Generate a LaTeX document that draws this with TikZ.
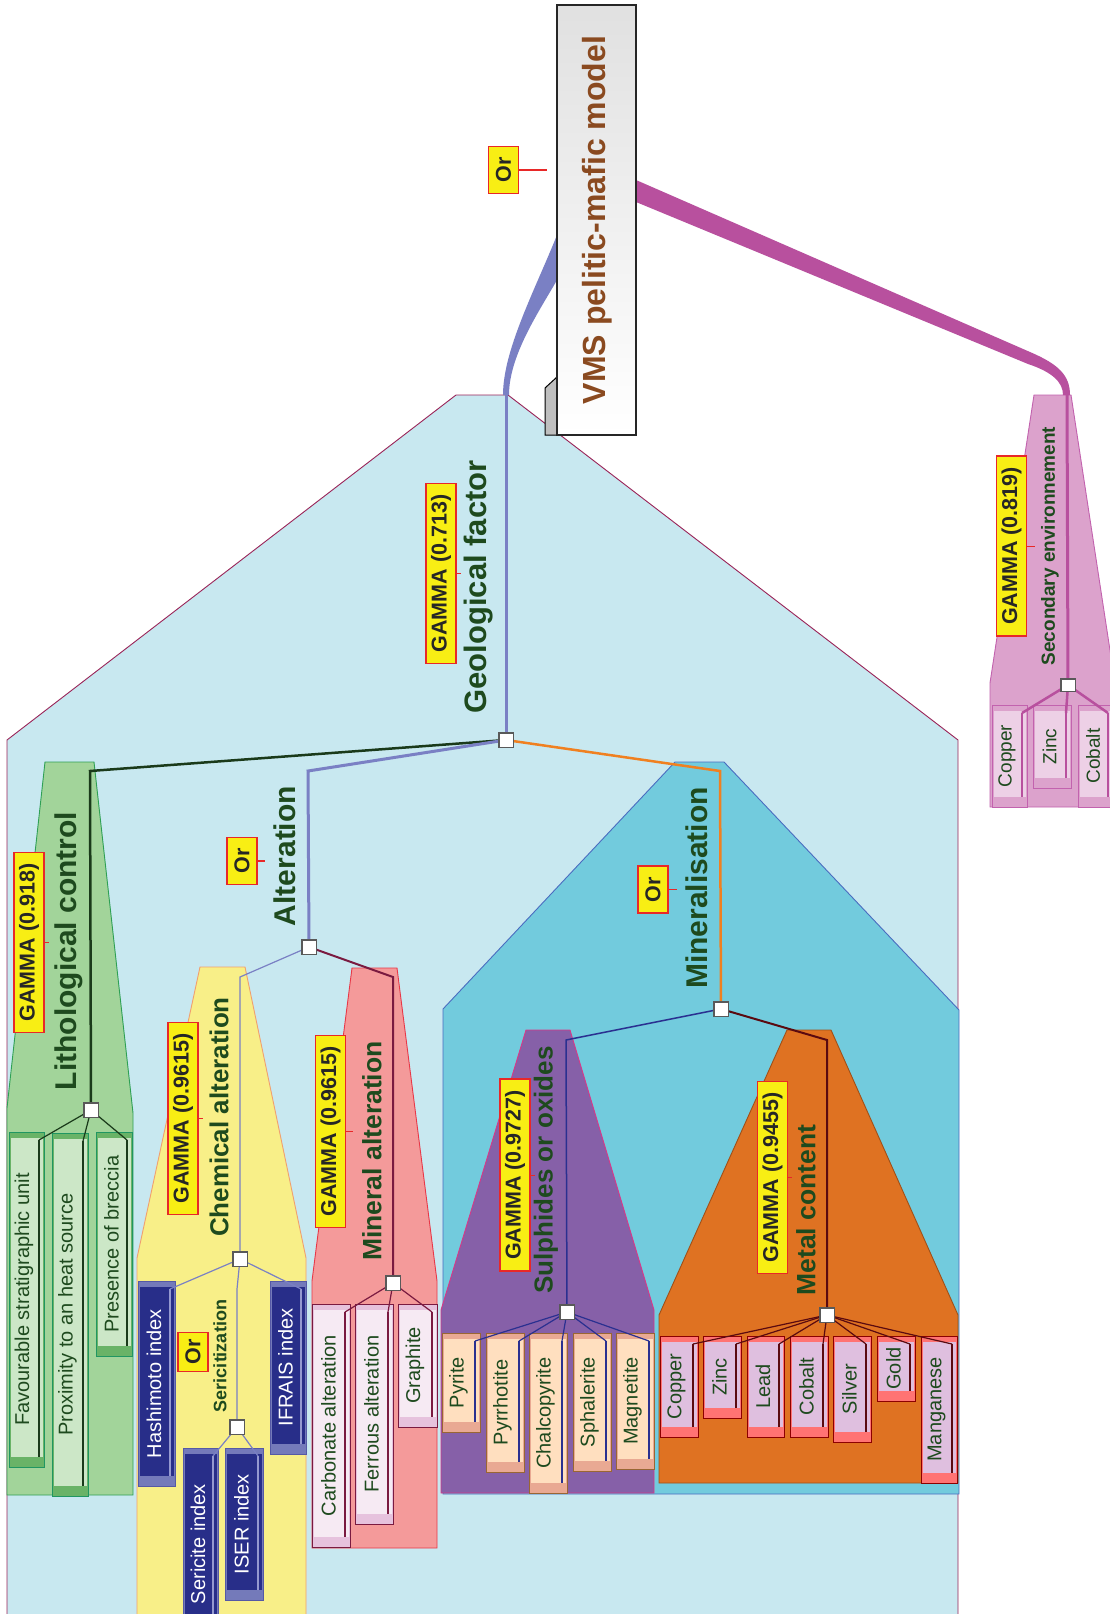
\documentclass[tikz,border=0pt]{standalone}
\usepackage{fontspec}
\setmainfont{Liberation Sans}
\definecolor{bgblue}{HTML}{C8E8F0}
\definecolor{bgborder}{HTML}{9A2458}
\definecolor{litfill}{HTML}{A2D49A}
\definecolor{litborder}{HTML}{2EA055}
\definecolor{chemfill}{HTML}{F8EF88}
\definecolor{chemborder}{HTML}{F0A070}
\definecolor{maltfill}{HTML}{F49A9A}
\definecolor{maltborder}{HTML}{E83848}
\definecolor{minfill}{HTML}{72CBDD}
\definecolor{minborder}{HTML}{4A6CC0}
\definecolor{sulfill}{HTML}{8660A8}
\definecolor{sulborder}{HTML}{D83888}
\definecolor{metfill}{HTML}{DF7222}
\definecolor{metborder}{HTML}{A05018}
\definecolor{secfill}{HTML}{DCA2CC}
\definecolor{secborder}{HTML}{C262AE}
\definecolor{hgreen}{HTML}{1E4A1E}
\definecolor{vmsbrown}{HTML}{8A4A20}
\definecolor{gyel}{HTML}{F8EE14}
\definecolor{gred}{HTML}{E82828}
\definecolor{lavline}{HTML}{7A80C4}
\definecolor{litline}{HTML}{1A3A1A}
\definecolor{orline}{HTML}{F08020}
\definecolor{maroonline}{HTML}{7A1A40}
\definecolor{navyline}{HTML}{2A3090}
\definecolor{dkmaroon}{HTML}{5A0A10}
\definecolor{magline}{HTML}{B8509E}
\tikzset{
  head/.style={rotate=90, text=hgreen, inner sep=0pt},
  gam/.style={draw=gred, line width=1.6pt, fill=gyel, rotate=90, text=black!85,
    font=\fontsize{21.5}{24}\selectfont\bfseries, inner xsep=11pt, inner ysep=2pt, minimum height=30pt},
  tick/.style={draw=gred, line width=1.5pt},
  junc/.style={draw=black!65, fill=white, line width=1.2pt, minimum size=13pt, inner sep=0pt},
  lit box/.style={fill=litfill!60!green!70!black!80, draw=litborder!70!teal, line width=1pt},
  lit inner/.style={fill=litfill!55!white},
  lit line/.style={draw=litline, line width=2pt},
  lit text/.style={text=hgreen, font=\fontsize{20}{22}\selectfont},
  nav box/.style={fill=lavline!95!black, draw=navyline!80, line width=1pt},
  nav inner/.style={fill=navyline!95!black},
  nav line/.style={draw=lavline!80!white, line width=1.5pt},
  nav text/.style={text=white, font=\fontsize{20}{22}\selectfont},
  mal box/.style={fill=magline!35!white, draw=maroonline, line width=1pt},
  mal inner/.style={fill=magline!12!white},
  mal line/.style={draw=maroonline, line width=2pt},
  mal text/.style={text=hgreen, font=\fontsize{20}{22}\selectfont},
  sul box/.style={fill=brown!35!pink, draw=brown!80!black, line width=1pt},
  sul inner/.style={fill=orange!25!white},
  sul line/.style={draw=navyline, line width=2pt},
  sul text/.style={text=hgreen, font=\fontsize{20}{22}\selectfont},
  met box/.style={fill=red!55!white, draw=red!55!black, line width=1pt},
  met inner/.style={fill=violet!25!white},
  met line/.style={draw=dkmaroon, line width=2pt},
  met text/.style={text=hgreen, font=\fontsize{20}{22}\selectfont},
  sec box/.style={fill=secfill, draw=secborder, line width=1pt},
  sec inner/.style={fill=secfill!50!white},
  sec line/.style={draw=magline, line width=2.5pt},
  sec text/.style={text=hgreen, font=\fontsize{19}{22}\selectfont},
}
% name, x1, y1, x2, y2, text, family
\newcommand\leaf[7]{%
  \filldraw[#7 box] (#2,#3) rectangle (#4,#5);
  \fill[#7 inner] (#2+1.5,#3+6) rectangle (#4-1.5,#5-10);
  \draw[#7 line] (#4-5,#3+8) -- (#4-5,#5-10);
  \coordinate (#1-top) at (#4-5,#3+8);
  \node[#7 text, rotate=90, inner sep=0pt] (#1) at ({(#2+#4-5)/2},{(#3+#5)/2}) {#6};
}
\begin{document}
\begin{tikzpicture}[x=1pt,y=-1pt]
\path[use as bounding box] (0,0) rectangle (1110,1614);
\clip (0,0) rectangle (1110,1614);
\fill[white] (0,0) rectangle (1110,1614);

% ---------- regions ----------
\filldraw[fill=bgblue, draw=bgborder, line width=0.9pt]
  (7,1640) -- (7,740) -- (456,395) -- (508,395) -- (958,740) -- (958,1640);
\filldraw[fill=litfill, draw=litborder, line width=0.9pt]
  (7,1495) -- (7,1108) -- (45,762) -- (94,762) -- (133,1113) -- (133,1495) -- cycle;
\filldraw[fill=chemfill, draw=chemborder, line width=0.9pt]
  (137,1640) -- (137,1258) -- (200,967) -- (245,967) -- (306,1258) -- (306,1640);
\filldraw[fill=maltfill, draw=maltborder, line width=0.9pt]
  (312,1548) -- (312,1281) -- (352,968) -- (397,968) -- (437,1281) -- (437,1548) -- cycle;
\filldraw[fill=minfill, draw=minborder, line width=0.9pt]
  (443,1494) -- (443,1009) -- (675,762) -- (724,762) -- (959,1010) -- (959,1494) -- cycle;
\filldraw[fill=sulfill, draw=sulborder, line width=0.9pt]
  (441,1493) -- (441,1310) -- (526,1030) -- (570,1030) -- (654,1310) -- (654,1493) -- cycle;
\filldraw[fill=metfill, draw=metborder, line width=0.9pt]
  (659,1483) -- (659,1315) -- (787,1030) -- (831,1030) -- (958,1315) -- (958,1483) -- cycle;
\filldraw[fill=secfill, draw=secborder, line width=0.9pt]
  (990,807) -- (990,683) -- (1034,395) -- (1071,395) -- (1115,683) -- (1115,807) -- cycle;

% ---------- bands ----------
\fill[lavline] (557,235) .. controls (535,290) and (503,350) .. (503,395)
  -- (509,395) .. controls (509,355) and (540,310) .. (557,280) -- cycle;
\fill[magline] (636,180) -- (1030,352) .. controls (1058,364) and (1070,375) .. (1070,395)
  -- (1063,395) .. controls (1063,382) and (1052,372) .. (1028,364) -- (636,202) -- cycle;

% ---------- main box ----------
\filldraw[fill=black!25, draw=black, line width=1pt] (545,435) -- (545,388) -- (557,377) -- (557,435) -- cycle;
\shade[top color=black!12, bottom color=white, draw=black!85, line width=1.2pt] (557,5) rectangle (636,435);
\node[rotate=90, text=vmsbrown, font=\fontsize{32}{36}\selectfont\bfseries, inner sep=0pt] (vms) at (597,220) {VMS pelitic-mafic model};
\node[gam] (orTop) at (503.5,170) {Or};
\draw[tick] (orTop.south) -- (547,170);

% ---------- junctions ----------
\node[junc] (jgeo) at (506,740) {};
\node[junc] (jlit) at (91,1110) {};
\node[junc] (jalt) at (309,947) {};
\node[junc] (jmin) at (721,1009) {};
\node[junc] (jchem) at (240,1259) {};
\node[junc] (jser) at (237,1427) {};
\node[junc] (jmal) at (393,1283) {};
\node[junc] (jsul) at (567,1312) {};
\node[junc] (jmet) at (827,1315) {};
\node[junc, minimum height=11pt] (jsec) at (1068,685) {};

\coordinate (geotop) at (506,395);
\coordinate (sectop) at (1067,395);
\coordinate (bLit) at (90,771);
\coordinate (bAlt) at (308,771);
\coordinate (bMin) at (720,771);
\coordinate (bChem) at (240,977);
\coordinate (bMal) at (393,977);
\coordinate (bSul) at (566,1040);
\coordinate (bMet) at (827,1040);
\coordinate (bSer) at (237,1289);

\draw[lavline, line width=3pt] (geotop) -- (jgeo);
\draw[magline, line width=3pt] (sectop) -- (jsec);
\draw[litline, line width=2.5pt] (jgeo) -- (bLit) -- (jlit);
\draw[lavline, line width=3pt] (jgeo) -- (bAlt) -- (jalt);
\draw[orline, line width=2.5pt] (jgeo) -- (bMin) -- (jmin);
\draw[lavline, line width=1.2pt] (jalt) -- (bChem) -- (jchem);
\draw[maroonline, line width=2pt] (jalt) -- (bMal) -- (jmal);
\draw[navyline, line width=1.5pt] (jmin) -- (bSul) -- (jsul);
\draw[dkmaroon, line width=2pt] (jmin) -- (bMet) -- (jmet);
\draw[lavline, line width=1.2pt] (jchem) -- (bSer) -- (jser);

% ---------- leaves ----------
\leaf{fav}{9}{1132}{44}{1467}{Favourable stratigraphic unit}{lit}
\leaf{prox}{52}{1133}{88}{1496}{Proximity to an heat source}{lit}
\leaf{brec}{96}{1132}{132}{1356}{Presence of breccia}{lit}

\leaf{hash}{138}{1281}{175}{1486}{Hashimoto index}{nav}
\leaf{ifrais}{270}{1281}{306}{1454}{IFRAIS index}{nav}
\leaf{seric}{183}{1448}{218}{1640}{Sericite index}{nav}
\leaf{iser}{225}{1448}{263}{1600}{ISER index}{nav}

\leaf{carb}{312}{1304}{350}{1547}{Carbonate alteration}{mal}
\leaf{ferr}{355}{1304}{393}{1524}{Ferrous alteration}{mal}
\leaf{graph}{398}{1304}{437}{1427}{Graphite}{mal}

\leaf{pyr}{442}{1333}{480}{1432}{Pyrite}{sul}
\leaf{pyrr}{486}{1333}{524}{1472}{Pyrrhotite}{sul}
\leaf{chal}{529}{1333}{567}{1493}{Chalcopyrite}{sul}
\leaf{sphal}{573}{1333}{611}{1471}{Sphalerite}{sul}
\leaf{magn}{616}{1333}{654}{1469}{Magnetite}{sul}

\leaf{cu}{660}{1336}{698}{1437}{Copper}{met}
\leaf{zn}{703}{1336}{741}{1418}{Zinc}{met}
\leaf{pb}{747}{1336}{784}{1437}{Lead}{met}
\leaf{co}{790}{1336}{828}{1437}{Cobalt}{met}
\leaf{ag}{833}{1336}{871}{1442}{Silver}{met}
\leaf{au}{877}{1336}{915}{1401}{Gold}{met}
\leaf{mn}{921}{1336}{957}{1483}{Manganese}{met}

\leaf{scu}{992}{705}{1027}{807}{Copper}{sec}
\leaf{szn}{1033}{705}{1071}{788}{Zinc}{sec}
\leaf{sco}{1078}{705}{1113}{807}{Cobalt}{sec}

% ---------- leaf connectors ----------
\foreach \c in {fav,prox,brec} \draw[litline, line width=1.2pt] (jlit) -- (\c-top);
\foreach \c in {hash,ifrais} \draw[lavline, line width=1.2pt] (jchem) -- (\c-top);
\foreach \c in {seric,iser} \draw[lavline, line width=1.2pt] (jser) -- (\c-top);
\foreach \c in {carb,ferr,graph} \draw[maroonline, line width=1.2pt] (jmal) -- (\c-top);
\foreach \c in {pyr,pyrr,chal,sphal,magn} \draw[navyline, line width=1.2pt] (jsul) -- (\c-top);
\foreach \c in {cu,zn,pb,co,ag,au,mn} \draw[dkmaroon, line width=1.2pt] (jmet) -- (\c-top);
\foreach \c in {scu,szn,sco} \draw[magline, line width=2.5pt] (jsec) -- (\c-top);

% redraw junctions on top
\foreach \j in {jgeo,jlit,jalt,jmin,jchem,jser,jmal,jsul,jmet}
  \filldraw[fill=white, draw=black!65, line width=1.2pt] (\j.south west) rectangle (\j.north east);
\filldraw[fill=white, draw=black!65, line width=1.2pt] (jsec.south west) rectangle (jsec.north east);

% ---------- headings ----------
\node[head, font=\fontsize{31}{34}\selectfont\bfseries] (tgeo) at (479,587) {Geological factor};
\node[head, font=\fontsize{30}{34}\selectfont\bfseries] (tlit) at (69,951) {Lithological control};
\node[head, font=\fontsize{30}{34}\selectfont\bfseries] (talt) at (285,856) {Alteration};
\node[head, font=\fontsize{30}{34}\selectfont\bfseries] (tmin) at (697,888) {Mineralisation};
\node[head, font=\fontsize{26}{30}\selectfont\bfseries] (tchem) at (219,1117) {Chemical alteration};
\node[head, font=\fontsize{26.5}{30}\selectfont\bfseries] (tmal) at (372,1151) {Mineral alteration};
\node[head, font=\fontsize{26}{30}\selectfont\bfseries] (tsul) at (546,1170) {Sulphides or oxides};
\node[head, font=\fontsize{26.5}{30}\selectfont\bfseries] (tmet) at (806,1210) {Metal content};
\node[head, font=\fontsize{19}{22}\selectfont\bfseries] (tsec) at (1050,546) {Secondary environnement};
\node[head, font=\fontsize{18}{22}\selectfont\bfseries] (tser) at (220,1356) {Sericitization};

% ---------- operator labels ----------
\node[gam] (g1) at (441,573.5) {GAMMA (0.713)};
\draw[tick, line width=1pt] (g1.south) -- ++(4,0);
\node[gam] (g2) at (29,942.5) {GAMMA (0.918)};
\draw[tick, line width=1pt] (g2.south) -- ++(4,0);
\node[gam] (g3) at (183,1118.5) {GAMMA (0.9615)};
\draw[tick, line width=1pt] (g3.south) -- ++(4,0);
\node[gam] (g4) at (330.5,1131.5) {GAMMA (0.9615)};
\draw[tick] (g4.south) -- ++(7,0);
\node[gam] (g5) at (515,1175) {GAMMA (0.9727)};
\draw[tick, line width=1pt] (g5.south) -- ++(4,0);
\node[gam] (g6) at (772.5,1177.5) {GAMMA (0.9455)};
\draw[tick, line width=1pt] (g6.south) -- ++(4,0);
\node[gam] (g7) at (1011.5,546) {GAMMA (0.819)};
\draw[tick, line width=1pt] (g7.south) -- ++(8,0);
\node[gam] (or1) at (242,861) {Or};
\draw[tick] (or1.south) -- ++(7,0);
\node[gam] (or2) at (653,889.5) {Or};
\draw[tick] (or2.south) -- ++(8,0);
\node[gam, inner xsep=7pt] (or3) at (193,1352) {Or};
\end{tikzpicture}
\end{document}
